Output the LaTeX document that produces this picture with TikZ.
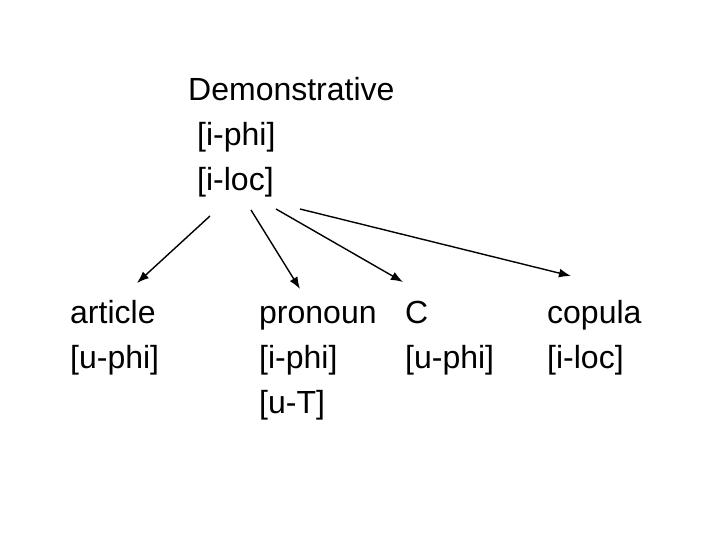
\documentclass[tikz,border=0pt]{standalone}
\usepackage{fontspec}
\setmainfont{Liberation Sans}
\usetikzlibrary{arrows.meta}
\begin{document}
\begin{tikzpicture}[x=1pt,y=-1pt,
  lbl/.style={anchor=base west,inner sep=0pt,font=\fontsize{32}{45}\selectfont},
  arr/.style={line width=1.4pt,-{Latex[length=12pt,width=9pt]}}]
\useasboundingbox (0,0) rectangle (720,540);
% top block
\node[lbl] (dem) at (188,101) {Demonstrative};
\node[lbl] (dphi) at (197,146) {[i-phi]};
\node[lbl] (dloc) at (197,191) {[i-loc]};
% article
\node[lbl] (art) at (70,323) {article};
\node[lbl] (aphi) at (70,368) {[u-phi]};
% pronoun
\node[lbl] (pro) at (259,323) {pronoun};
\node[lbl] (pphi) at (259,368) {[i-phi]};
\node[lbl] (pT) at (259,413) {[u-T]};
% C
\node[lbl] (c) at (405,323) {C};
\node[lbl] (cphi) at (405,368) {[u-phi]};
% copula
\node[lbl] (cop) at (547,323) {copula};
\node[lbl] (cloc) at (547,368) {[i-loc]};
% arrow ends
\coordinate (s1) at (210,216);
\coordinate (e1) at (137,283);
\coordinate (s2) at (251,210);
\coordinate (e2) at (300,289);
\coordinate (s3) at (276,209);
\coordinate (e3) at (403,282);
\coordinate (s4) at (300,209);
\coordinate (e4) at (571,276);
\draw[arr] (s1) -- (e1);
\draw[arr] (s2) -- (e2);
\draw[arr] (s3) -- (e3);
\draw[arr] (s4) -- (e4);
\end{tikzpicture}
\end{document}
